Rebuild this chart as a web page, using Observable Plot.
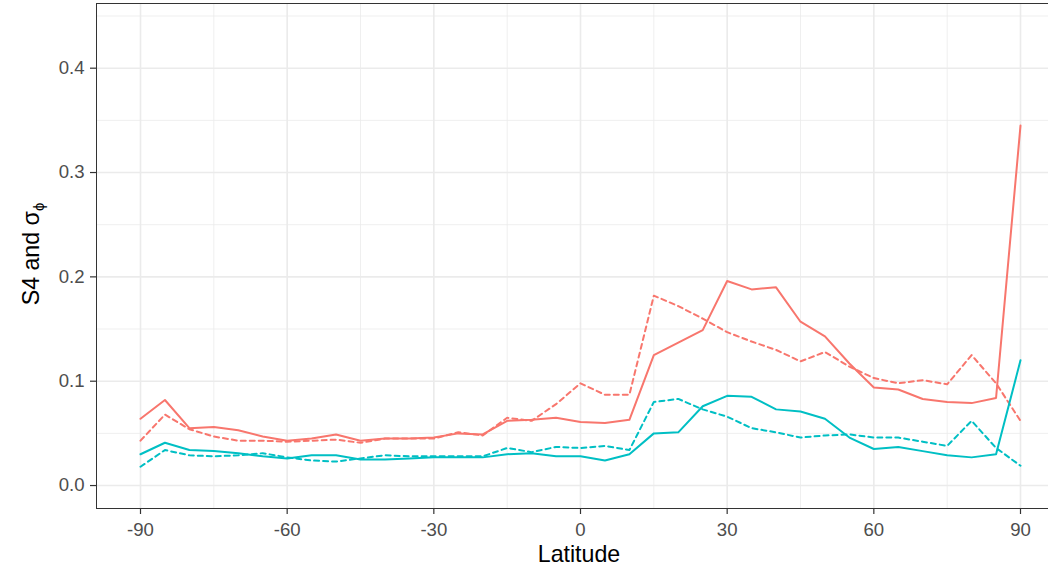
<!DOCTYPE html>
<html>
<head>
<meta charset="utf-8">
<script src="https://cdn.jsdelivr.net/npm/d3@7"></script>
<script src="https://cdn.jsdelivr.net/npm/@observablehq/plot@0.6"></script>
<style>
  html, body { margin: 0; padding: 0; background: #fff; overflow: hidden; }
  #chart { width: 1048px; height: 568px; overflow: hidden; }
  #chart svg { max-width: none !important; font-family: "Liberation Sans", Arial, sans-serif; }
  #chart svg [aria-label="x-axis tick label"], #chart svg [aria-label="y-axis tick label"] { font-size: 18.6px; }
</style>
</head>
<body>
<div id="chart"></div>
<script>
// Latitude categories (degrees)
const latitude = [-90,-85,-80,-75,-70,-65,-60,-55,-50,-45,-40,-35,-30,-25,-20,-15,-10,-5,0,5,10,15,20,25,30,35,40,45,50,55,60,65,70,75,80,85,90];

// Red series, solid line
const redSolid = [0.064,0.082,0.055,0.056,0.053,0.047,0.043,0.045,0.049,0.043,0.045,0.045,0.046,0.050,0.049,0.062,0.063,0.065,0.061,0.060,0.063,0.125,0.137,0.149,0.196,0.188,0.190,0.157,0.143,0.117,0.094,0.092,0.083,0.080,0.079,0.084,0.345];
// Red series, dashed line
const redDashed = [0.043,0.068,0.054,0.047,0.043,0.043,0.042,0.043,0.044,0.041,0.045,0.045,0.045,0.051,0.048,0.065,0.062,0.078,0.098,0.087,0.087,0.182,0.172,0.160,0.147,0.138,0.130,0.119,0.128,0.114,0.103,0.098,0.101,0.097,0.125,0.098,0.062];
// Cyan series, solid line
const cyanSolid = [0.030,0.041,0.034,0.033,0.031,0.028,0.026,0.029,0.029,0.025,0.025,0.026,0.027,0.027,0.027,0.030,0.031,0.028,0.028,0.024,0.030,0.050,0.051,0.076,0.086,0.085,0.073,0.071,0.064,0.046,0.035,0.037,0.033,0.029,0.027,0.030,0.120];
// Cyan series, dashed line
const cyanDashed = [0.018,0.034,0.029,0.028,0.029,0.031,0.027,0.024,0.023,0.026,0.029,0.028,0.028,0.028,0.028,0.036,0.032,0.037,0.036,0.038,0.034,0.080,0.083,0.073,0.066,0.055,0.051,0.046,0.048,0.049,0.046,0.046,0.042,0.038,0.062,0.036,0.019];

const xMajor = [-90,-60,-30,0,30,60,90];
const xMinor = [-75,-45,-15,15,45,75];
const yMajor = [0,0.1,0.2,0.3,0.4];
const yMinor = [0.05,0.15,0.25,0.35,0.45];

const seriesList = [
  {name: "red-solid", values: redSolid, color: "#F8766D", dash: null},
  {name: "red-dashed", values: redDashed, color: "#F8766D", dash: "5,4"},
  {name: "cyan-solid", values: cyanSolid, color: "#00BFC4", dash: null},
  {name: "cyan-dashed", values: cyanDashed, color: "#00BFC4", dash: "5,4"}
];

const lineMarks = seriesList.map(s =>
  Plot.line(latitude.map((lat, i) => ({lat, v: s.values[i]})), {
    x: "lat", y: "v", stroke: s.color, strokeWidth: 2,
    strokeDasharray: s.dash ?? undefined
  })
);

const plot = Plot.plot({
  width: 1072,
  height: 568,
  marginLeft: 96,
  marginRight: 8,
  marginTop: 3,
  marginBottom: 60,
  style: {fontFamily: '"Liberation Sans", Arial, sans-serif', background: "#fff", maxWidth: "none"},
  x: {domain: [-99, 99]},
  y: {domain: [-0.022, 0.462]},
  marks: [
    Plot.gridX(xMinor, {stroke: "#EBEBEB", strokeOpacity: 1, strokeWidth: 0.8}),
    Plot.gridY(yMinor, {stroke: "#EBEBEB", strokeOpacity: 1, strokeWidth: 0.8}),
    Plot.gridX(xMajor, {stroke: "#EBEBEB", strokeOpacity: 1, strokeWidth: 1.6}),
    Plot.gridY(yMajor, {stroke: "#EBEBEB", strokeOpacity: 1, strokeWidth: 1.6}),
    ...lineMarks,
    Plot.frame({stroke: "#333333", strokeWidth: 1}),
    Plot.axisX(xMajor, {label: null, tickSize: 6, tickPadding: 8, stroke: "#333333", strokeWidth: 1.2, color: "#4D4D4D", tickFormat: d => String(d)}),
    Plot.axisY(yMajor, {label: null, tickSize: 6, tickPadding: 6, stroke: "#333333", strokeWidth: 1.2, color: "#4D4D4D", tickFormat: d3.format(".1f")})
  ]
});

document.getElementById("chart").appendChild(plot);

// Axis titles
const svg = d3.select(plot);
svg.append("text")
  .attr("x", 579).attr("y", 562)
  .attr("text-anchor", "middle")
  .attr("fill", "#000").attr("font-size", 23.2)
  .text("Latitude");

const yt = svg.append("text")
  .attr("transform", "translate(38.5,254) rotate(-90)")
  .attr("text-anchor", "middle")
  .attr("fill", "#000").attr("font-size", 23.2);
yt.append("tspan").text("S4 and σ");
yt.append("tspan").attr("font-size", 15).attr("dy", 5).text("ϕ");
</script>
</body>
</html>
